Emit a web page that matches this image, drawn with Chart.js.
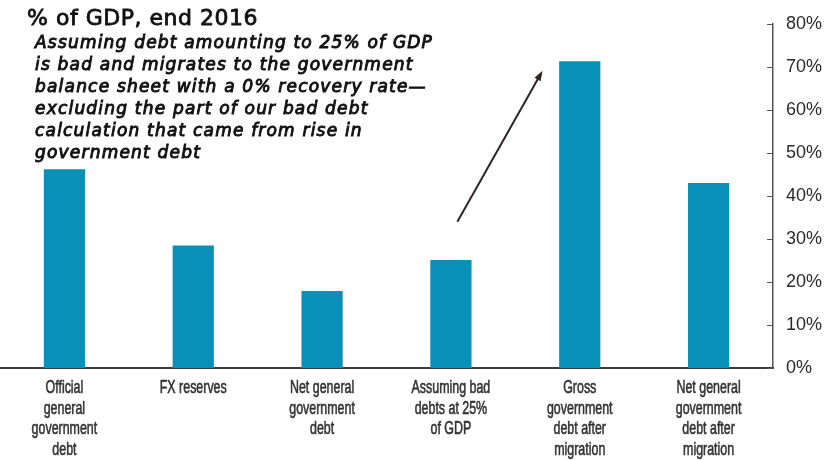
<!DOCTYPE html>
<html>
<head>
<meta charset="utf-8">
<script src="https://cdn.jsdelivr.net/npm/chart.js@4/dist/chart.umd.min.js"></script>
<style>
  html, body { margin: 0; padding: 0; background: #fff; }
  #wrap { position: relative; width: 831px; height: 460px; }
</style>
</head>
<body>
<div id="wrap"><canvas id="debt-chart"></canvas></div>
<script>
const categories = [
    ["Official", "general", "government", "debt"],
    ["FX reserves"],
    ["Net general", "government", "debt"],
    ["Assuming bad", "debts at 25%", "of GDP"],
    ["Gross", "government", "debt after", "migration"],
    ["Net general", "government", "debt after", "migration"]
]
const debtValues = [46.2, 28.5, 17.9, 25.1, 71.3, 43.0]
const yTicks = [0, 10, 20, 30, 40, 50, 60, 70, 80]
const titleText = "% of GDP, end 2016"
const noteLines = [
    "Assuming debt amounting to 25% of GDP",
    "is bad and migrates to the government",
    "balance sheet with a 0% recovery rate\u2014",
    "excluding the part of our bad debt",
    "calculation that came from rise in",
    "government debt"
]
// arrow from (category index, value) to (category index, value)
const arrowFrom = [3.05, 34]
const arrowTo = [3.7, 68.5]

// small spacing tweak so a line fills the width it has in the reference
function fitSpacing(ctx, text, width) {
    ctx.letterSpacing = "0px"
    const w = ctx.measureText(text).width
    return ((width - w) / text.length) + "px"
}

const annotations = {
    id: "annotations",
    afterDraw(chart) {
        const ctx = chart.ctx
        const x = chart.scales.x
        const y = chart.scales.y
        ctx.save()

        // inside tick marks on the right axis
        ctx.strokeStyle = "#555"
        ctx.lineWidth = 1
        yTicks.forEach(v => {
            const py = Math.round(y.getPixelForValue(v)) + 0.5
            ctx.beginPath()
            ctx.moveTo(y.left - 6, py)
            ctx.lineTo(y.left, py)
            ctx.stroke()
        })

        // condensed category labels
        ctx.fillStyle = "#333"
        ctx.strokeStyle = "#333"
        ctx.lineWidth = 0.6
        ctx.font = "18px 'Liberation Sans', Arial"
        ctx.textAlign = "center"
        categories.forEach((lines, i) => {
            const cx = x.getPixelForValue(i)
            lines.forEach((line, k) => {
                ctx.save()
                ctx.translate(cx, x.top + 25 + k * 20.7)
                ctx.scale(0.69, 1)
                ctx.fillText(line, 0, 0)
                ctx.strokeText(line, 0, 0)
                ctx.restore()
            })
        })
        ctx.textAlign = "left"

        ctx.fillStyle = "#111"
        ctx.strokeStyle = "#111"
        ctx.textBaseline = "alphabetic"
        ctx.font = "22px 'DejaVu Sans'"
        ctx.letterSpacing = fitSpacing(ctx, titleText, 231)
        ctx.lineWidth = 0.8
        ctx.fillText(titleText, 27, 25)
        ctx.strokeText(titleText, 27, 25)

        ctx.font = "italic 17px 'DejaVu Sans'"
        ctx.letterSpacing = fitSpacing(ctx, noteLines[0], 398)
        ctx.lineWidth = 0.95
        noteLines.forEach((line, i) => {
            ctx.fillText(line, 35, 48 + i * 22)
            ctx.strokeText(line, 35, 48 + i * 22)
        })
        ctx.letterSpacing = "0px"

        // arrow
        const x0 = x.getPixelForValue(arrowFrom[0]), y0 = y.getPixelForValue(arrowFrom[1])
        const x1 = x.getPixelForValue(arrowTo[0]), y1 = y.getPixelForValue(arrowTo[1])
        ctx.strokeStyle = "#2b2422"
        ctx.fillStyle = "#2b2422"
        ctx.lineWidth = 2
        ctx.beginPath()
        ctx.moveTo(x0, y0)
        ctx.lineTo(x1, y1)
        ctx.stroke()
        const ang = Math.atan2(y1 - y0, x1 - x0)
        ctx.beginPath()
        ctx.moveTo(x1 + 3 * Math.cos(ang), y1 + 3 * Math.sin(ang))
        ctx.lineTo(x1 - 8 * Math.cos(ang - 0.45), y1 - 8 * Math.sin(ang - 0.45))
        ctx.lineTo(x1 - 8 * Math.cos(ang + 0.45), y1 - 8 * Math.sin(ang + 0.45))
        ctx.closePath()
        ctx.fill()
        ctx.restore()
    }
}

const canvas = document.getElementById("debt-chart")
new Chart(canvas, {
    type: "bar",
    data: {
        labels: categories,
        datasets: [{
            data: debtValues,
            backgroundColor: "#0990b9",
            categoryPercentage: 1,
            barPercentage: 0.32
        }]
    },
    options: {
        responsive: true,
        maintainAspectRatio: false,
        animation: false,
        layout: { padding: { top: 20, left: 0, right: 0, bottom: 0 } },
        plugins: {
            legend: { display: false },
            tooltip: { enabled: false }
        },
        scales: {
            x: {
                grid: { display: false, drawTicks: false },
                border: { display: true, color: "#3a3a3a", width: 2 },
                ticks: { display: false },
                afterFit(scale) { scale.height = 92 }
            },
            y: {
                position: "right",
                min: 0,
                max: 80,
                grid: { display: false, drawTicks: false },
                border: { display: true, color: "#555", width: 1.5 },
                ticks: {
                    stepSize: 10,
                    padding: 13,
                    color: "#2a2a2a",
                    font: { family: "'Liberation Sans', Arial", size: 18 },
                    callback: v => v + "%"
                },
                afterFit(scale) { scale.width = 58 }
            }
        }
    },
    plugins: [annotations]
})
</script>
</body>
</html>
